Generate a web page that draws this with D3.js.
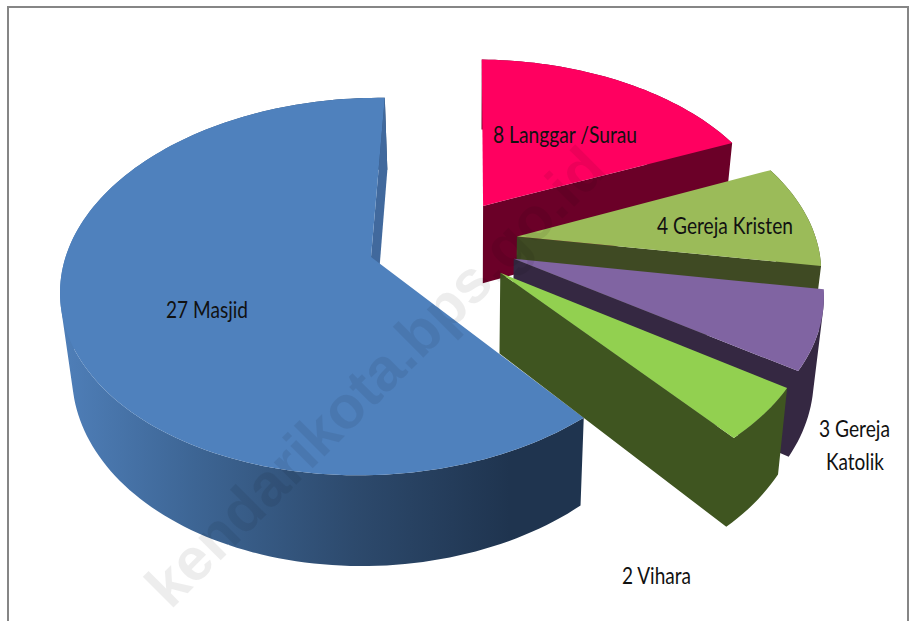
<!DOCTYPE html>
<html>
<head>
<meta charset="utf-8">
<script src="https://cdn.jsdelivr.net/npm/d3@7"></script>
<style>
html,body{margin:0;padding:0;background:#fff;overflow:hidden}
svg{display:block}
text{font-family:Lato,"Open Sans",sans-serif}
</style>
</head>
<body>
<svg id="chart" width="910" height="621"></svg>
<script>
// ---- data ----
const categories = ["Langgar /Surau", "Gereja Kristen", "Gereja Katolik", "Vihara", "Masjid"];
const values = [8, 4, 3, 2, 27];
const topColors = ["#ff0060", "#9bbb59", "#8064a2", "#92d050", "#4f81bd"];
const wallColors = ["#6b0028", "#3f4a23", "#352842", "#3f5520", "#41699d"];
const watermark = "kendarikota.bps.go.id";

// ---- layout ----
const W = 910, H = 621;
const svg = d3.select("#chart");
const rad = d => d * Math.PI / 180;
const origin = [371, 257];          // screen position of the largest slice's tip
const persp = {A: 305, B: 184, k: 0.1565, m: 0.007, T: 6};
const explode = 0.25;
const startDeg = 3;
const labelLayout = {
  "Masjid": {x: 166, y: 318, w: 82},
  "Langgar /Surau": {x: 493, y: 143, w: 144},
  "Gereja Kristen": {x: 657, y: 234, w: 136},
  "Gereja Katolik": {lines: [{x: 819, y: 437, w: 71}, {x: 826, y: 470, w: 58}]},
  "Vihara": {x: 622, y: 584, w: 69}
};

// world -> screen (top face), a small perspective projection
function project(u, v) {
  const w = 1 + persp.k * v + persp.m * u;
  return [origin[0] + persp.A * u / w, origin[1] - (persp.B * v + persp.T * u) / w];
}
// top face -> bottom face of the disc
function lower(p) {
  return [473 + 0.971 * (p[0] - 473), p[1] + 67 + 0.05 * p[1]];
}

const pie = d3.pie().sort(null).value(d => d.value)
  .startAngle(rad(startDeg)).endAngle(rad(startDeg + 360));
const slices = pie(categories.map((c, i) => ({category: c, value: values[i], i})));

const dir = a => [Math.sin(a), Math.cos(a)];
const mid = s => (s.startAngle + s.endAngle) / 2;
const main = slices[slices.length - 1];
const mainDir = dir(mid(main));
slices.forEach(s => {
  const d = dir(mid(s));
  s.tip = [explode * (d[0] - mainDir[0]), explode * (d[1] - mainDir[1])];
});
const rim = (s, a) => {
  const d = dir(a);
  return project(s.tip[0] + d[0], s.tip[1] + d[1]);
};
const rimPoints = s => {
  const n = Math.ceil((s.endAngle - s.startAngle) / rad(1.5));
  return d3.range(n + 1).map(i => rim(s, s.startAngle + (s.endAngle - s.startAngle) * i / n));
};
const line = d3.line().curve(d3.curveLinearClosed);
// same winding for every quad, so one path fills their union without seams
const wound = q => d3.polygonArea(q) < 0 ? q.slice().reverse() : q;

// ---- gradient for the big slice's curved wall ----
const defs = svg.append("defs");
const grad = defs.append("linearGradient").attr("id", "wallGrad")
  .attr("gradientUnits", "userSpaceOnUse").attr("x1", 60).attr("x2", 510).attr("y1", 0).attr("y2", 0);
[[0, "#4f7fb9"], [0.3, "#3d6594"], [0.65, "#2d4a6d"], [1, "#1f344f"]].forEach(([o, c]) =>
  grad.append("stop").attr("offset", o).attr("stop-color", c));

// ---- background + frame ----
svg.append("rect").attr("width", W).attr("height", H).attr("fill", "#fff");
svg.append("rect").attr("x", 8).attr("y", 7).attr("width", 900).attr("height", 640)
  .attr("fill", "none").attr("stroke", "#868686").attr("stroke-width", 2);

// ---- slices, back to front ----
const order = [main, ...slices.slice(0, slices.length - 1)];
const g = svg.selectAll("g.slice").data(order).join("g").attr("class", "slice");
g.each(function (s) {
  const sel = d3.select(this);
  const pts = rimPoints(s);
  const tipTop = project(s.tip[0], s.tip[1]);
  const last = pts[pts.length - 1];
  const isMain = s === main;
  const wallFill = isMain ? "url(#wallGrad)" : wallColors[s.data.i];
  const quads = d3.pairs(pts).map(([a, b]) => wound([a, b, lower(b), lower(a)]));
  // cut face is part of the same path on the small slices so no seam shows
  if (!isMain) quads.push(wound([tipTop, last, lower(last), lower(tipTop)]));
  sel.append("path")
    .attr("d", quads.map(q => line(q)).join(""))
    .attr("fill", wallFill);
  if (isMain) {
    sel.append("path")
      .attr("d", line([tipTop, last, lower(last), lower(tipTop)]))
      .attr("fill", wallColors[s.data.i]);
  }
  // top face
  sel.append("path")
    .attr("d", line([tipTop, ...pts]))
    .attr("fill", topColors[s.data.i]);
});

// ---- labels ----
slices.forEach(s => {
  const name = s.data.category;
  const full = s.data.value + " " + name;
  const lay = labelLayout[name];
  const words = full.split(" ");
  const rows = lay.lines
    ? [[words.slice(0, 2).join(" "), lay.lines[0]], [words.slice(2).join(" "), lay.lines[1]]]
    : [[full, lay]];
  rows.forEach(([t, p]) => {
    svg.append("text").attr("x", p.x).attr("y", p.y)
      .attr("textLength", p.w).attr("lengthAdjust", "spacingAndGlyphs")
      .attr("font-size", 23).attr("fill", "#111").text(t);
  });
});

// ---- watermark ----
svg.append("text")
  .attr("transform", "translate(609,172) rotate(-45)")
  .attr("text-anchor", "end")
  .attr("font-size", 60).attr("font-weight", 700)
  .style("font-family", "'Liberation Sans',sans-serif")
  .attr("fill", "#000").attr("fill-opacity", 0.07)
  .text(watermark);
</script>
</body>
</html>
